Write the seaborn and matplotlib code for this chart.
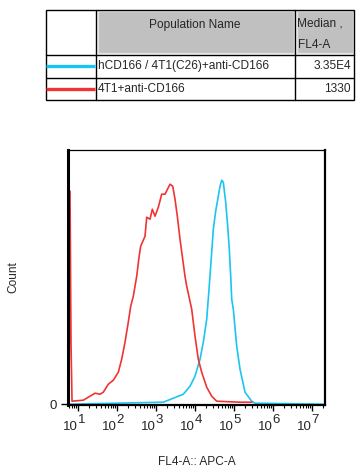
import numpy as np
import pandas as pd
import matplotlib
matplotlib.use("Agg")
import matplotlib.pyplot as plt
import matplotlib.patches as mpatches
import seaborn as sns

# histogram traces, x in log10(FL4-A) decades
red_logx = [0.777, 0.803, 0.828, 0.854, 1.144, 1.315, 1.444, 1.572, 1.656, 1.785,
            1.913, 2.041, 2.128, 2.213, 2.297, 2.359, 2.426, 2.513, 2.572, 2.615,
            2.726, 2.769, 2.854, 2.913, 2.982, 3.067, 3.154, 3.238, 3.367, 3.436,
            3.495, 3.554, 3.623, 3.692, 3.751, 3.795, 3.923, 4.008, 4.092, 4.179,
            4.308, 4.436, 4.564, 5.162, 5.469]
red_count = [0, 213, 62, 3, 4, 8, 11, 10, 12, 20,
             24, 32, 45, 62, 82, 98, 108, 128, 147, 158,
             168, 187, 185, 195, 188, 197, 210, 210, 220, 218,
             205, 188, 165, 145, 128, 118, 95, 68, 45, 32,
             17, 8, 3, 2, 2]

cyan_logx = [0.777, 3.195, 3.451, 3.708, 3.879, 4.008, 4.136, 4.221, 4.308, 4.367,
             4.436, 4.477, 4.538, 4.605, 4.649, 4.692, 4.733, 4.795, 4.846, 4.887,
             4.923, 4.949, 4.990, 5.077, 5.162, 5.290, 5.462, 5.546, 7.34]
cyan_count = [0, 2, 6, 10, 18, 28, 45, 62, 85, 115,
              152, 175, 193, 208, 218, 224, 222, 202, 178, 155,
              128, 105, 95, 58, 35, 12, 3, 1, 0]

populations = ["hCD166 / 4T1(C26)+anti-CD166", "4T1+anti-CD166"]
medians = ["3.35E4", "1330"]
colors = ["#1CC4F0", "#F03434"]
decades = [1, 2, 3, 4, 5, 6, 7]

sns.set_theme(style="white")
plt.rcParams["font.family"] = ["Liberation Sans", "DejaVu Sans"]

df = pd.concat([
    pd.DataFrame({"logx": cyan_logx, "count": cyan_count, "pop": populations[0]}),
    pd.DataFrame({"logx": red_logx, "count": red_count, "pop": populations[1]}),
])

fig = plt.figure(figsize=(3.63, 4.76), dpi=100)

# --- table with legend swatches, drawn in pixel coordinates
tab = fig.add_axes([0, 0, 1, 1], zorder=0)
tab.set_xlim(0, 363)
tab.set_ylim(476, 0)
tab.axis("off")
for x0, x1 in [(96.5, 295), (295.5, 354)]:
    tab.add_patch(mpatches.Rectangle((x0 + 1, 10.5), x1 - x0 - 2, 42.5,
                                     facecolor="#C0C0C0", edgecolor="#E2E2E2", lw=1))
tab.add_patch(mpatches.Rectangle((46, 9.5), 308, 90.5, fill=False, edgecolor="black", lw=1))
for x in [96, 295]:
    tab.plot([x, x], [9.5, 100], color="black", lw=1)
for y in [54.5, 77.5]:
    tab.plot([46, 354], [y, y], color="black", lw=1)
tab.text(195, 25, "Population Name", ha="center", va="center", fontsize=8.6)
tab.text(297, 24, "Median ,", ha="left", va="center", fontsize=8.6)
tab.text(298, 45, "FL4-A", ha="left", va="center", fontsize=8.6)
for i, (name, med, c) in enumerate(zip(populations, medians, colors)):
    y = 66 + i * 23
    tab.plot([46, 95], [y, y], color=c, lw=2.4, solid_capstyle="butt")
    tab.text(98, y, name, ha="left", va="center", fontsize=8.6)
    tab.text(351, y, med, ha="right", va="center", fontsize=8.6)

# --- histogram overlay
ax = fig.add_axes([68 / 363, 1 - 405 / 476, 257 / 363, 255.5 / 476], zorder=1)
ax.patch.set_alpha(0)
sns.lineplot(data=df, x="logx", y="count", hue="pop", palette=colors,
             hue_order=populations, estimator=None, sort=False,
             lw=1.2, legend=False, ax=ax)
ax.set_xlim(0.751, 7.341)
ax.set_ylim(-0.8, 254.7)

ax.set_xticks(decades)
ax.set_xticklabels([])
minor = [d + np.log10(k) for d in range(0, 8) for k in range(2, 10)]
minor = [m for m in minor if 0.751 < m < 7.341]
ax.set_xticks(minor, minor=True)
ax.tick_params(axis="x", which="major", direction="out", length=4.5, width=1,
               bottom=True, color="black")
ax.tick_params(axis="x", which="minor", direction="out", length=2.5, width=0.8,
               bottom=True, color="black")
trans = ax.get_xaxis_transform()
for d in decades:
    ax.text(d, -0.086, "10", ha="right", va="center", fontsize=9.5, transform=trans)
    ax.text(d, -0.058, str(d), ha="left", va="center", fontsize=9.5, transform=trans)

ax.set_yticks([0])
ax.set_yticklabels(["0"], fontsize=9.5)
ax.tick_params(axis="y", direction="out", length=5, width=1, left=True,
               pad=3, color="black")

for side, w in [("left", 2.2), ("bottom", 1.6), ("right", 1.6), ("top", 0.9)]:
    ax.spines[side].set_visible(True)
    ax.spines[side].set_color("black")
    ax.spines[side].set_linewidth(w)

ax.set_xlabel("FL4-A:: APC-A", fontsize=8.6)
ax.set_ylabel("Count", fontsize=8.6)
ax.xaxis.set_label_coords(0.5, -0.2)
ax.yaxis.set_label_coords(-0.19, 0.5)

fig.savefig("out.png", dpi=100)
